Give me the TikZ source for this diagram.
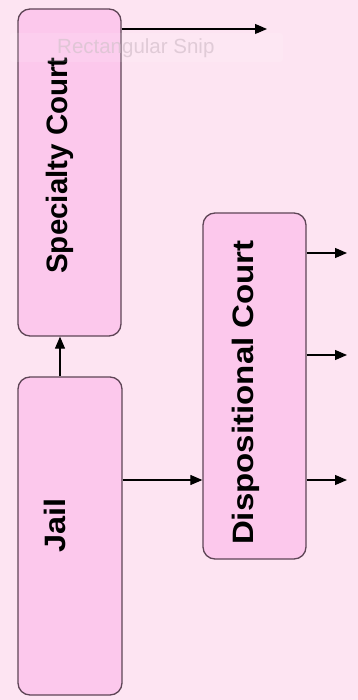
\documentclass[tikz,border=0pt]{standalone}
\usepackage{fontspec}
\setmainfont{Liberation Sans}
\usetikzlibrary{arrows.meta}
\definecolor{bgc}{HTML}{FDE4F2}
\definecolor{boxc}{HTML}{FCC8EC}
\definecolor{edgec}{HTML}{5E4556}
\definecolor{snipc}{HTML}{D9C4D0}
\tikzset{
  box/.style={draw=edgec, fill=boxc, line width=1.3pt, rounded corners=12pt, inner sep=0pt},
  lbl/.style={rotate=90, anchor=base, inner sep=0pt, font=\fontsize{29.5}{30}\selectfont\bfseries, text=black},
  arr/.style={draw=black, line width=1.2pt, -{Triangle[length=12pt,width=10pt]}}
}
\begin{document}
\begin{tikzpicture}[x=1pt,y=-1pt]
\useasboundingbox (0,0) rectangle (358,700);
\fill[bgc] (0,0) rectangle (358,700);
% boxes
\node[box, minimum width=103pt, minimum height=327pt] (spec) at (69.5,172.5) {};
\node[box, minimum width=104pt, minimum height=318pt] (jail) at (70,536) {};
\node[box, minimum width=103pt, minimum height=346pt] (disp) at (254.5,386) {};
% labels
\node[lbl] (tspec) at (67,165.5) {Specialty Court};
\node[lbl] (tdisp) at (253,392.5) {\scalebox{1.12}[1]{Dispositional Court}};
\node[lbl] (tjail) at (65,525.5) {\scalebox{1.1}[1]{Jail}};
% helper coordinates
\coordinate (ax) at (60,0);
\coordinate (t1) at (267,29);
\coordinate (jy) at (0,480);
\coordinate (o1) at (347,253);
\coordinate (o2) at (347,355);
\coordinate (o3) at (347,480);
% connectors
\draw[arr] (jail.north -| ax) -- (spec.south -| ax);
\draw[arr] (spec.east |- t1) -- (t1);
\draw[arr] (jail.east |- jy) -- (disp.west |- jy);
\draw[arr] (disp.east |- o1) -- (o1);
\draw[arr] (disp.east |- o2) -- (o2);
\draw[arr] (disp.east |- o3) -- (o3);
% faint snipping-tool watermark
\fill[white, opacity=0.12, rounded corners=3pt] (10,33) rectangle (283,62);
\node[text=snipc, opacity=0.8, anchor=west, inner sep=0pt, font=\fontsize{20.5}{21}\selectfont] (snip) at (57,48) {Rectangular Snip};
\end{tikzpicture}
\end{document}
